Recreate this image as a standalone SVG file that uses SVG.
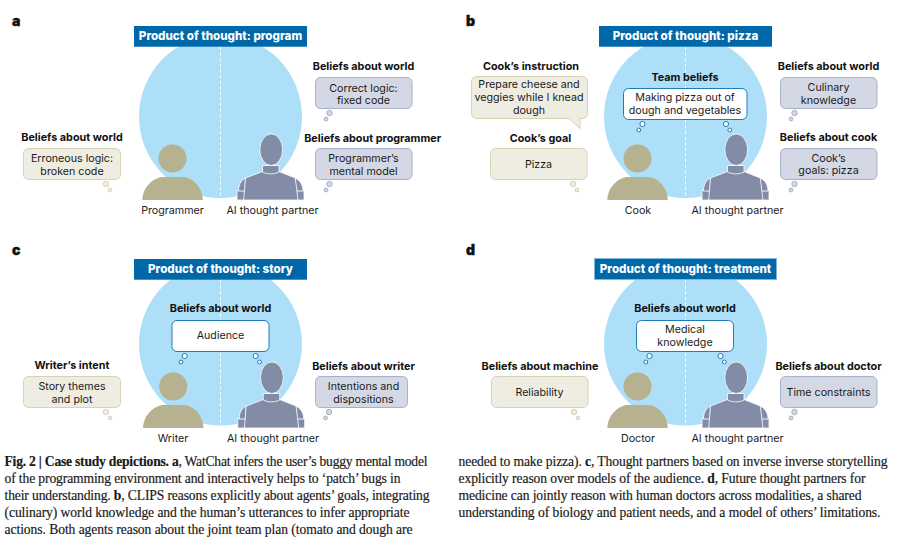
<svg xmlns="http://www.w3.org/2000/svg" width="901" height="545" viewBox="0 0 901 545">
<style>
text{font-family:"Inter","Liberation Sans",sans-serif;text-anchor:middle;fill:#1a1a1a}
.t{font-size:10.8px;font-weight:700;fill:#111}
.b{font-size:10.7px}
.h{font-size:11.6px;font-weight:800;fill:#fff}
.l{font-size:14px;font-weight:900;text-anchor:start;fill:#111;stroke:#111;stroke-width:.4}
.cap{font-family:"Liberation Serif",serif;font-size:13.6px;text-anchor:start;fill:#1a1a1a;font-weight:400;stroke:#1a1a1a;stroke-width:.18}
.cap .s{font-weight:700}
.w{fill:#efede2;stroke:#d6d2b4;stroke-width:1}
.m{fill:#d4d8e4;stroke:#a6b0ca;stroke-width:1}
.j{fill:#fff;stroke:#1f7cbc;stroke-width:1}
.hd{fill:#0067a8}
.disc{fill:#addff8}
.dash{stroke:#fff;stroke-width:.9;stroke-dasharray:3.2 2.4;fill:none}
</style>
<defs>
<g id="person"><circle cx="172.5" cy="158.5" r="14" fill="#b6b18f"/><path d="M142.3 200C143 185 155 177 164 177H182C191 177 202 185 202.8 200Z" fill="#b6b18f"/></g>
<g id="robot" fill="#828ca6" stroke="#fff" stroke-width=".8">
<path d="M237 200V190.700H247V200Z"/><path d="M304 200V190.700H296V200Z"/>
<path d="M295 178C300 180 303 185 303 191H296Z"/><path d="M245.500 178C241 180 238.500 185 238.500 191H245Z"/>
<path d="M243.700 200L245.500 178L262.500 171.500H279L295.300 178L298 200Z"/>
<path d="M262.500 165.500H279V172C274 174.500 267.500 174.500 262.500 172Z"/>
<ellipse cx="271.200" cy="149.700" rx="11.400" ry="15.800"/>
</g>
<g id="bw"><circle cx="0" cy="0" r="2.700" class="w"/><circle cx="4" cy="6" r="1.900" class="w"/></g>
<g id="bm"><circle cx="0" cy="0" r="2.700" class="m"/><circle cx="-3.500" cy="6" r="1.900" class="m"/></g>
<g id="bjl"><circle cx="0" cy="0" r="2.600" fill="#fff" stroke="#1f7cbc"/><circle cx="-3.700" cy="6" r="1.900" fill="#fff" stroke="#1f7cbc"/></g>
<g id="bjr"><circle cx="0" cy="0" r="2.600" fill="#fff" stroke="#1f7cbc"/><circle cx="3.800" cy="6" r="1.900" fill="#fff" stroke="#1f7cbc"/></g>
</defs>

<g id="panel-a">
<text class="l" x="12" y="26">a</text>
<circle class="disc" cx="220.500" cy="116.500" r="81.500"/>
<rect class="hd" x="134" y="26" width="173" height="20.700"/>
<text class="h" x="220.500" y="40">Product of thought: program</text>
<g id="connectors-a"><path class="dash" d="M220.500 47V199"/></g>
<g id="a-human"><use href="#person"/><text class="b" x="172.500" y="214">Programmer</text></g>
<g id="a-ai"><use href="#robot"/><text class="b" x="272.500" y="214">AI thought partner</text></g>
<g id="a-n1"><text class="t" x="72" y="141">Beliefs about world</text><rect class="w" x="23.500" y="148.500" width="97" height="31" rx="5"/><text class="b" x="72" y="162">Erroneous logic:</text><text class="b" x="72" y="175">broken code</text><use href="#bw" x="106" y="184"/></g>
<g id="a-n2"><text class="t" x="363.500" y="70">Beliefs about world</text><rect class="m" x="315.500" y="77.500" width="96.500" height="31" rx="5"/><text class="b" x="363.500" y="92">Correct logic:</text><text class="b" x="363.500" y="104">fixed code</text><use href="#bm" x="329.500" y="113"/></g>
<g id="a-n3"><text class="t" x="372.700" y="142">Beliefs about programmer</text><rect class="m" x="315.500" y="148.500" width="96.500" height="31" rx="5"/><text class="b" x="363.500" y="162">Programmer’s</text><text class="b" x="363.500" y="175">mental model</text><use href="#bm" x="329.500" y="184"/></g>
</g>

<g id="panel-b">
<text class="l" x="466" y="26">b</text>
<circle class="disc" cx="685.500" cy="116.500" r="81.500"/>
<rect class="hd" x="599" y="26" width="173" height="20.700"/>
<text class="h" x="685.500" y="40">Product of thought: pizza</text>
<g id="connectors-b"><path class="dash" d="M685.500 47V199"/></g>
<g id="b-human"><use href="#person" x="465"/><text class="b" x="638" y="214">Cook</text></g>
<g id="b-ai"><use href="#robot" x="465"/><text class="b" x="737.500" y="214">AI thought partner</text></g>
<g id="b-n1"><text class="t" x="531" y="70">Cook’s instruction</text><path class="w" d="M476.500 76.500H582.500a5 5 0 0 1 5 5V113.500a5 5 0 0 1 -5 5H580V128.500L569 118.500H476.500a5 5 0 0 1 -5 -5V81.500a5 5 0 0 1 5 -5Z"/><text class="b" x="529" y="88">Prepare cheese and</text><text class="b" x="529" y="101">veggies while I knead</text><text class="b" x="529" y="114">dough</text></g>
<g id="b-n2"><text class="t" x="540.500" y="142">Cook’s goal</text><rect class="w" x="490.500" y="148.500" width="96.500" height="31" rx="5"/><text class="b" x="538.500" y="168">Pizza</text><use href="#bw" x="573" y="184"/></g>
<g id="b-n3"><text class="t" x="685" y="81">Team beliefs</text><rect class="j" x="623.500" y="88.500" width="123.500" height="31" rx="5"/><text class="b" x="685" y="101">Making pizza out of</text><text class="b" x="685" y="114">dough and vegetables</text><use href="#bjl" x="642.500" y="124"/><use href="#bjr" x="726" y="124"/></g>
<g id="b-n4"><text class="t" x="828.500" y="70">Beliefs about world</text><rect class="m" x="780.500" y="77.500" width="96.500" height="31" rx="5"/><text class="b" x="828.500" y="91">Culinary</text><text class="b" x="828.500" y="104">knowledge</text><use href="#bm" x="794.500" y="113"/></g>
<g id="b-n5"><text class="t" x="828.500" y="141">Beliefs about cook</text><rect class="m" x="780.500" y="148.500" width="96.500" height="31" rx="5"/><text class="b" x="828.500" y="162">Cook’s</text><text class="b" x="828.500" y="174">goals: pizza</text><use href="#bm" x="794.500" y="184"/></g>
</g>

<g id="panel-c">
<text class="l" x="12" y="255">c</text>
<circle class="disc" cx="220.500" cy="344" r="81.500"/>
<rect class="hd" x="134" y="259" width="173" height="20.700"/>
<text class="h" x="220.500" y="273">Product of thought: story</text>
<g id="connectors-c"><path class="dash" d="M220.500 280V427"/></g>
<g id="c-human"><use href="#person" x="0.700" y="228"/><text class="b" x="173" y="442">Writer</text></g>
<g id="c-ai"><use href="#robot" x="0.700" y="228"/><text class="b" x="273" y="442">AI thought partner</text></g>
<g id="c-n1"><text class="t" x="220.500" y="312">Beliefs about world</text><rect class="j" x="172" y="320.500" width="97" height="31" rx="5"/><text class="b" x="220.500" y="339">Audience</text><use href="#bjl" x="184.700" y="356"/><use href="#bjr" x="255.700" y="356"/></g>
<g id="c-n2"><text class="t" x="72" y="369">Writer’s intent</text><rect class="w" x="23.500" y="376.500" width="97" height="31" rx="5"/><text class="b" x="72" y="390">Story themes</text><text class="b" x="72" y="403">and plot</text><use href="#bw" x="106" y="412"/></g>
<g id="c-n3"><text class="t" x="363.500" y="370">Beliefs about writer</text><rect class="m" x="315.500" y="376.500" width="92" height="31" rx="5"/><text class="b" x="363.500" y="390">Intentions and</text><text class="b" x="363.500" y="403">dispositions</text><use href="#bm" x="329" y="412"/></g>
</g>

<g id="panel-d">
<text class="l" x="466" y="255">d</text>
<circle class="disc" cx="685.500" cy="344" r="81.500"/>
<rect class="hd" x="594.500" y="258.500" width="182" height="21" stroke="#7fb8da" stroke-width="1"/>
<text class="h" x="685.500" y="273">Product of thought: treatment</text>
<g id="connectors-d"><path class="dash" d="M685.500 280V427"/></g>
<g id="d-human"><use href="#person" x="465" y="228"/><text class="b" x="638" y="442">Doctor</text></g>
<g id="d-ai"><use href="#robot" x="465" y="228"/><text class="b" x="737.500" y="442">AI thought partner</text></g>
<g id="d-n1"><text class="t" x="685" y="312">Beliefs about world</text><rect class="j" x="636.500" y="320.500" width="97" height="31" rx="5"/><text class="b" x="685" y="333">Medical</text><text class="b" x="685" y="346">knowledge</text><use href="#bjl" x="649.500" y="356"/><use href="#bjr" x="720.500" y="356"/></g>
<g id="d-n2"><text class="t" x="540" y="370">Beliefs about machine</text><rect class="w" x="491.500" y="376.500" width="96.500" height="31" rx="5"/><text class="b" x="539.500" y="396">Reliability</text><use href="#bw" x="574" y="412"/></g>
<g id="d-n3"><text class="t" x="828.500" y="370">Beliefs about doctor</text><rect class="m" x="780.500" y="376.500" width="96.500" height="31" rx="5"/><text class="b" x="828.500" y="396">Time constraints</text><use href="#bm" x="794.500" y="412"/></g>
</g>

<g id="caption">
<text class="cap" x="4.500" y="465.500" textLength="423"><tspan class="s">Fig. 2 | Case study depictions. a</tspan>, WatChat infers the user’s buggy mental model</text>
<text class="cap" x="4.500" y="482.500" textLength="396">of the programming environment and interactively helps to ‘patch’ bugs in</text>
<text class="cap" x="4.500" y="499.500" textLength="425">their understanding. <tspan class="s">b</tspan>, CLIPS reasons explicitly about agents’ goals, integrating</text>
<text class="cap" x="4.500" y="516.500" textLength="405">(culinary) world knowledge and the human’s utterances to infer appropriate</text>
<text class="cap" x="4.500" y="533.500" textLength="408">actions. Both agents reason about the joint team plan (tomato and dough are</text>
<text class="cap" x="458.500" y="465.500" textLength="429">needed to make pizza). <tspan class="s">c</tspan>, Thought partners based on inverse inverse storytelling</text>
<text class="cap" x="458.500" y="482.500" textLength="407">explicitly reason over models of the audience. <tspan class="s">d</tspan>, Future thought partners for</text>
<text class="cap" x="458.500" y="499.500" textLength="403">medicine can jointly reason with human doctors across modalities, a shared</text>
<text class="cap" x="458.500" y="516.500" textLength="422">understanding of biology and patient needs, and a model of others’ limitations.</text>
</g>
</svg>
